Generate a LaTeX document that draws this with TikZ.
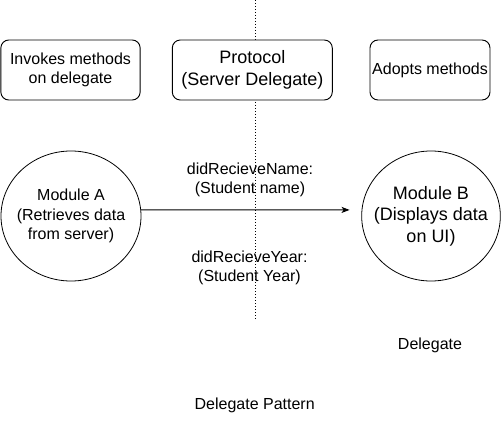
\documentclass[tikz,border=0pt]{standalone}
\usepackage{fontspec}
\setmainfont{Liberation Sans}
\usetikzlibrary{arrows.meta, shapes.geometric, positioning}

\begin{document}
\begin{tikzpicture}[
  x=0.75pt, y=-0.75pt,
  every node/.style={font=\fontsize{12}{14.4}\selectfont, align=center, inner sep=0pt},
  rolebox/.style={draw, line width=0.7pt, rounded corners=6pt, fill=white, minimum height=45pt},
  module/.style={draw, ellipse, line width=0.6pt, inner xsep=-6pt, minimum height=97.5pt},
  bigtext/.style={font=\fontsize{13.5}{16.2}\selectfont},
  divider/.style={line width=0.6pt, dash pattern=on 0.6pt off 1.65pt},
  msg/.style={line width=0.75pt, -{Stealth[length=6pt, width=4.5pt, inset=1.5pt]}, shorten >=9pt},
]
\useasboundingbox (0,0) rectangle (502,424);

% dotted separator behind the protocol box
\coordinate (divtop) at (255,0);
\coordinate (divbot) at (255,320);
\draw[divider] (divtop) -- (divbot);

\node[rolebox, minimum width=104.5pt] (invoker) at (70.5,70) {Invokes methods\\on delegate};
\node[rolebox, bigtext, minimum width=120pt] (protocol) at (252.3,70) {Protocol\\(Server Delegate)};
\node[rolebox, minimum width=90pt] (adopter) at (430,70) {Adopts methods};

\node[module, minimum width=105pt] (modA) at (71,216) {Module A\\(Retrieves data\\from server)};
\node[module, bigtext, minimum width=103.5pt] (modB) at (431,216) {Module B\\(Displays data\\on UI)};

\draw[msg] (modA.5) -- (modB.175);

\node (nameMsg) at (250,179.5) {didRecieveName:\\(Student name)};
\node (yearMsg) at (249.5,268) {didRecieveYear:\\(Student Year)};

\node (delegate) at (430,345) {Delegate};
\node (title) at (254.7,405) {Delegate Pattern};
\end{tikzpicture}
\end{document}
